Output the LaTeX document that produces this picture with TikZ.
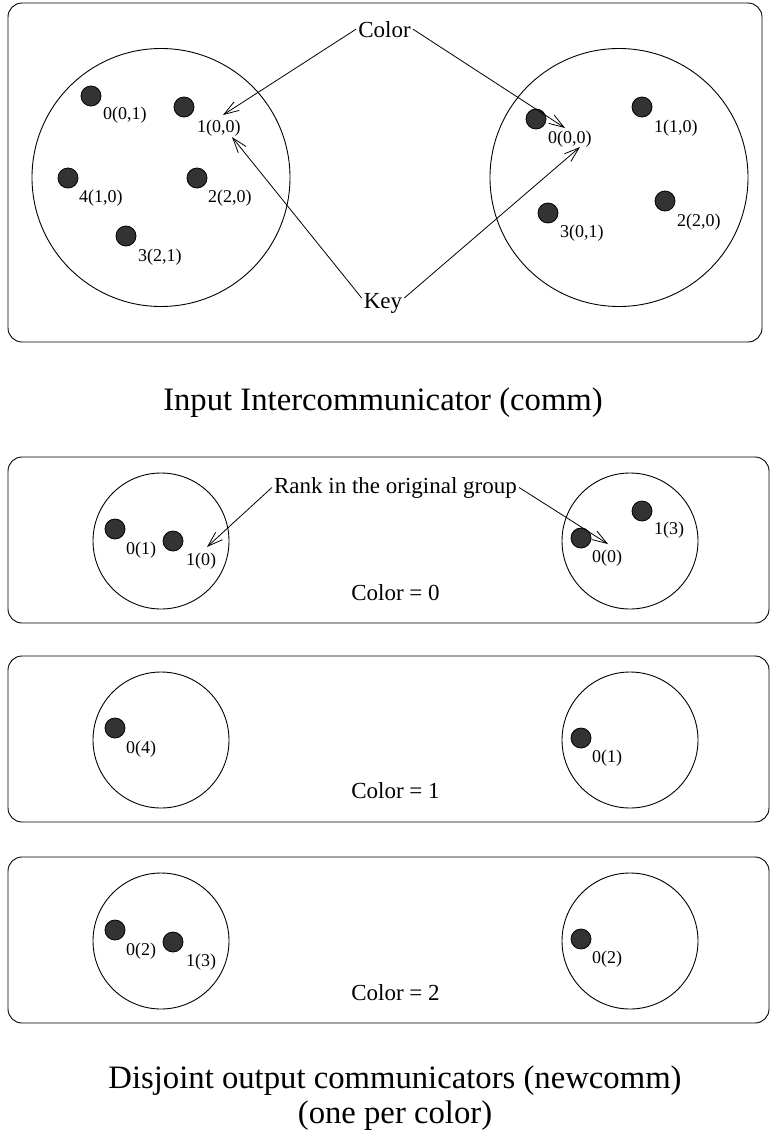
\documentclass[tikz,border=0pt]{standalone}
\usepackage{fontspec}
\setmainfont{Liberation Serif}
\usetikzlibrary{arrows.meta}
\definecolor{dotgray}{HTML}{333333}
\begin{document}
\begin{tikzpicture}[x=1pt,y=-1pt,
  every node/.style={inner sep=0pt},
  panel/.style={draw, line width=0.9pt, rounded corners=14pt},
  group/.style={circle, draw, line width=0.9pt, inner sep=0pt},
  proc/.style={circle, draw, line width=0.8pt, fill=dotgray, minimum size=20pt, inner sep=0pt},
  lbl/.style={anchor=base west, font=\fontsize{18}{20}\selectfont},
  mid/.style={anchor=base, font=\fontsize{23}{26}\selectfont, inner sep=2pt},
  big/.style={anchor=base, font=\fontsize{32.7}{36}\selectfont},
  ptr/.style={-{Straight Barb[length=15pt,width=10pt]}, line width=0.8pt}
]
\useasboundingbox (0,0) rectangle (772,1130);

% ---------- Panel 1: input intercommunicator ----------
\draw[panel] (8,3) rectangle (762,342);
\node[group, minimum size=258pt] (gL) at (161,177.5) {};
\node[group, minimum size=258pt] (gR) at (619,177.5) {};

\node[proc] (a0) at (91,96) {};
\node[proc] (a1) at (184,107) {};
\node[proc] (a4) at (68,178) {};
\node[proc] (a2) at (197,178) {};
\node[proc] (a3) at (126,236) {};
\node[lbl] (la0) at (103,119) {0(0,1)};
\node[lbl] (la1) at (197,132) {1(0,0)};
\node[lbl] (la4) at (79,202) {4(1,0)};
\node[lbl] (la2) at (208,202) {2(2,0)};
\node[lbl] (la3) at (138,261) {3(2,1)};

\node[proc] (b0) at (536,119) {};
\node[proc] (b1) at (642,107) {};
\node[proc] (b3) at (548,213) {};
\node[proc] (b2) at (665,201) {};
\node[lbl] (lb0) at (548,143) {0(0,0)};
\node[lbl] (lb1) at (654,132) {1(1,0)};
\node[lbl] (lb3) at (560,237) {3(0,1)};
\node[lbl] (lb2) at (677,226) {2(2,0)};

\node[mid] (color) at (384.5,37) {Color};
\node[mid] (key) at (383,308) {Key};
\coordinate (tcL) at (223,115);
\coordinate (tcR) at (565,128);
\coordinate (tkL) at (232,137);
\coordinate (tkR) at (580,147);
\draw[ptr] (color.west) -- (tcL);
\draw[ptr] (color.east) -- (tcR);
\draw[ptr] ([yshift=5pt]key.west) -- (tkL);
\draw[ptr] ([yshift=5pt]key.east) -- (tkR);

\node[big] (title1) at (383,410) {Input Intercommunicator (comm)};

% ---------- Panel 2: color 0 ----------
\draw[panel] (8,457) rectangle (769,623);
\node[group, minimum size=136pt] (c0L) at (161,541) {};
\node[group, minimum size=136pt] (c0R) at (630,541) {};
\node[proc] (p0a) at (115,529) {};
\node[proc] (p0b) at (173,541) {};
\node[lbl] (lp0a) at (126,554) {0(1)};
\node[lbl] (lp0b) at (186,565) {1(0)};
\node[proc] (q0a) at (581,538) {};
\node[proc] (q0b) at (642,511) {};
\node[lbl] (lq0a) at (592,562) {0(0)};
\node[lbl] (lq0b) at (654,534) {1(3)};
\node[mid] (rank) at (395.5,493) {Rank in the original group};
\coordinate (trL) at (207,547);
\coordinate (trR) at (608,544);
\draw[ptr] (rank.west) -- (trL);
\draw[ptr] (rank.east) -- (trR);
\node[mid] (col0) at (395.5,600) {Color = 0};

% ---------- Panel 3: color 1 ----------
\draw[panel] (8,656) rectangle (769,822);
\node[group, minimum size=136pt] (c1L) at (161,740) {};
\node[group, minimum size=136pt] (c1R) at (630,740) {};
\node[proc] (p1a) at (115,728) {};
\node[lbl] (lp1a) at (126,753) {0(4)};
\node[proc] (q1a) at (581,738) {};
\node[lbl] (lq1a) at (592,762) {0(1)};
\node[mid] (col1) at (395.5,798) {Color = 1};

% ---------- Panel 4: color 2 ----------
\draw[panel] (8,857) rectangle (769,1023);
\node[group, minimum size=136pt] (c2L) at (161,941) {};
\node[group, minimum size=136pt] (c2R) at (630,941) {};
\node[proc] (p2a) at (115,930) {};
\node[proc] (p2b) at (173,942) {};
\node[lbl] (lp2a) at (126,955) {0(2)};
\node[lbl] (lp2b) at (186,966) {1(3)};
\node[proc] (q2a) at (581,939) {};
\node[lbl] (lq2a) at (592,963) {0(2)};
\node[mid] (col2) at (395.5,1000) {Color = 2};

\node[big] (title2) at (395,1088) {Disjoint output communicators (newcomm)};
\node[big] (title3) at (395,1123) {(one per color)};
\end{tikzpicture}
\end{document}
